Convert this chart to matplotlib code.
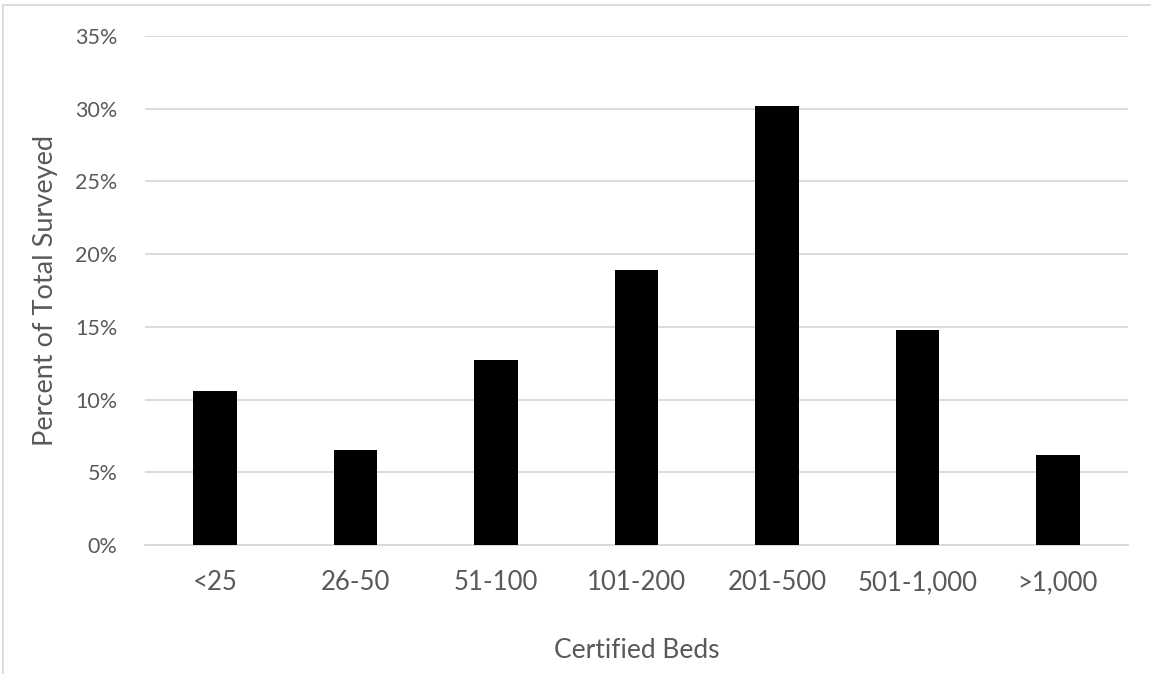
import matplotlib
matplotlib.use('Agg')
import matplotlib.pyplot as plt
from matplotlib.patches import Rectangle
from matplotlib.ticker import PercentFormatter

categorias = ['<25', '26-50', '51-100', '101-200', '201-500', '501-1,000', '>1,000']
porcentajes = [10.6, 6.5, 12.7, 18.9, 30.2, 14.8, 6.2]
yticks = [0, 5, 10, 15, 20, 25, 30, 35]

plt.rcParams['font.family'] = ['Lato', 'DejaVu Sans']
gris = '#595959'

fig = plt.figure(figsize=(11.51, 6.74), dpi=100)
ax = fig.add_axes([0.126, 0.1914, 0.854, 0.7552])

x = range(len(categorias))
ax.bar(x, porcentajes, width=0.31, color='black', zorder=3)

ax.set_xlim(-0.5, len(categorias) - 0.5)
ax.set_ylim(0, 35)
ax.set_yticks(yticks)
ax.yaxis.set_major_formatter(PercentFormatter(decimals=0))
ax.set_xticks(list(x))
ax.set_xticklabels(categorias)

ax.grid(axis='y', color='#d9d9d9', linewidth=1.3, zorder=0)
for s in ['top', 'right', 'left']:
    ax.spines[s].set_visible(False)
ax.spines['bottom'].set_color('#d9d9d9')
ax.spines['bottom'].set_linewidth(1.3)
ax.tick_params(axis='both', length=0, colors=gris)
ax.tick_params(axis='y', labelsize=15.5, pad=20)
ax.tick_params(axis='x', labelsize=18.5, pad=18)

ax.set_xlabel('Certified Beds', fontsize=19, color=gris, labelpad=31)
ax.set_ylabel('Percent of Total Surveyed', fontsize=19.5, color=gris, labelpad=12)

# borde del area del grafico
fig.patches.append(Rectangle((3 / 1151, -0.1), 1.2, 1 - 5 / 674 + 0.1,
                             transform=fig.transFigure, fill=False,
                             edgecolor='#d9d9d9', linewidth=1.3))

fig.savefig('out.png', dpi=100)
